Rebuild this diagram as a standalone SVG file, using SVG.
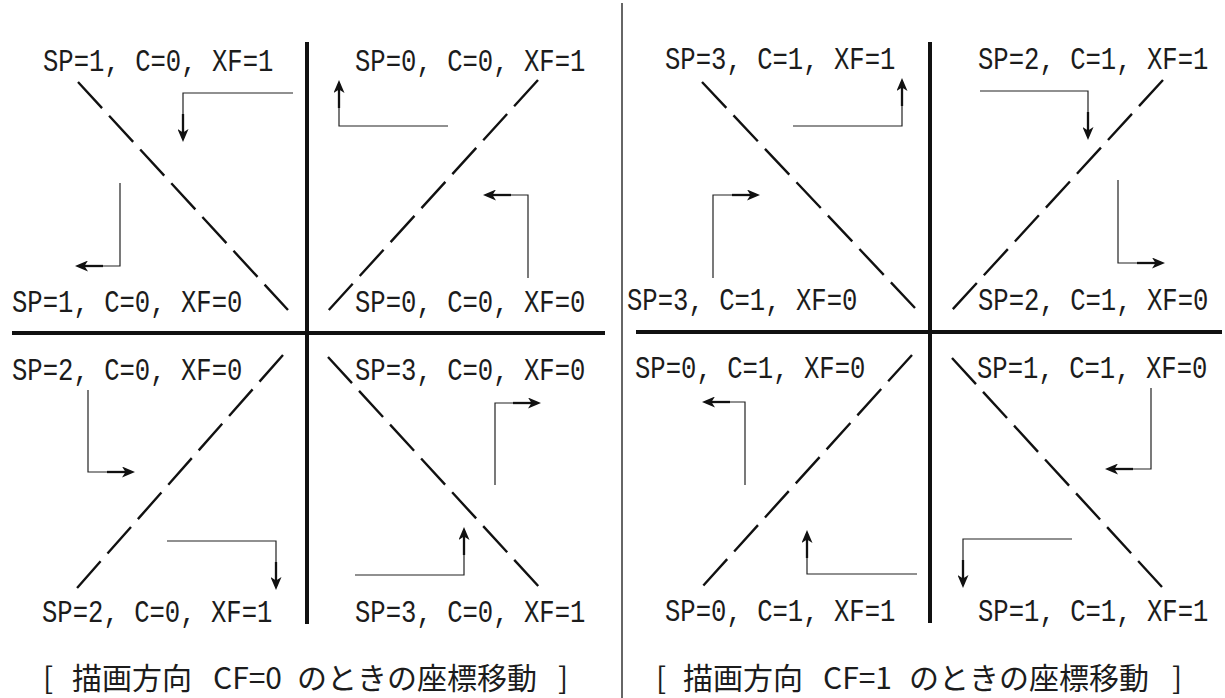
<svg xmlns="http://www.w3.org/2000/svg" width="1225" height="698" viewBox="0 0 1225 698">
<style>
.bg{fill:#ffffff}
.axis{stroke:#111;stroke-width:4;fill:none}
.sep{stroke:#333;stroke-width:1.5;fill:none}
.diag{stroke:#111;stroke-width:2.4;fill:none;stroke-dasharray:35.5 10.4}
.thin{stroke:#222;stroke-width:1.2;fill:none}
.thick{stroke:#111;stroke-width:2.3;fill:none;marker-end:url(#ah)}
.lbl{font-family:"Liberation Mono","DejaVu Sans Mono",monospace;font-size:25.6px;fill:#1c1c1c}
.cap{font-family:"Noto Sans CJK JP","Noto Sans CJK SC",sans-serif;font-size:30px;fill:#1c1c1c}
</style>
<defs>
<marker id="ah" viewBox="0 0 13 11" refX="9" refY="5.5" markerWidth="13" markerHeight="11" markerUnits="userSpaceOnUse" orient="auto">
<path d="M0,0 L13,5.5 L0,11 L3.5,5.5 Z" fill="#111"/>
</marker>
</defs>
<rect class="bg" x="0" y="0" width="1225" height="698"/>

<g id="frame">
<line class="sep" x1="622" y1="3" x2="622" y2="698"/>
<line class="axis" x1="307" y1="42" x2="307" y2="624"/>
<line class="axis" x1="12" y1="333" x2="605" y2="333"/>
<line class="axis" x1="930" y1="42" x2="930" y2="623"/>
<line class="axis" x1="636" y1="332" x2="1222" y2="332"/>
</g>

<g id="diagonals">
<line class="diag" x1="78" y1="82" x2="288" y2="310"/>
<line class="diag" x1="538" y1="80" x2="327" y2="312"/>
<line class="diag" x1="283" y1="355" x2="77" y2="588"/>
<line class="diag" x1="328" y1="357" x2="540" y2="588"/>
<line class="diag" x1="702" y1="82" x2="915" y2="308"/>
<line class="diag" x1="1163" y1="80" x2="952" y2="310"/>
<line class="diag" x1="912" y1="355" x2="702" y2="587"/>
<line class="diag" x1="952" y1="358" x2="1162" y2="587"/>
</g>

<g id="labels-cf0">
<g id="n-sp1-c0-xf1"><text class="lbl" transform="translate(43,71) scale(1,1.21)">SP=1, C=0, XF=1</text></g>
<g id="n-sp0-c0-xf1"><text class="lbl" transform="translate(355,71) scale(1,1.21)">SP=0, C=0, XF=1</text></g>
<g id="n-sp1-c0-xf0"><text class="lbl" transform="translate(12,312) scale(1,1.21)">SP=1, C=0, XF=0</text></g>
<g id="n-sp0-c0-xf0"><text class="lbl" transform="translate(355,312) scale(1,1.21)">SP=0, C=0, XF=0</text></g>
<g id="n-sp2-c0-xf0"><text class="lbl" transform="translate(12,380) scale(1,1.21)">SP=2, C=0, XF=0</text></g>
<g id="n-sp3-c0-xf0"><text class="lbl" transform="translate(355,380) scale(1,1.21)">SP=3, C=0, XF=0</text></g>
<g id="n-sp2-c0-xf1"><text class="lbl" transform="translate(42,622) scale(1,1.21)">SP=2, C=0, XF=1</text></g>
<g id="n-sp3-c0-xf1"><text class="lbl" transform="translate(355,622) scale(1,1.21)">SP=3, C=0, XF=1</text></g>
</g>

<g id="labels-cf1">
<g id="n-sp3-c1-xf1"><text class="lbl" transform="translate(665,69) scale(1,1.21)">SP=3, C=1, XF=1</text></g>
<g id="n-sp2-c1-xf1"><text class="lbl" transform="translate(978,69) scale(1,1.21)">SP=2, C=1, XF=1</text></g>
<g id="n-sp3-c1-xf0"><text class="lbl" transform="translate(627,310) scale(1,1.21)">SP=3, C=1, XF=0</text></g>
<g id="n-sp2-c1-xf0"><text class="lbl" transform="translate(978,310) scale(1,1.21)">SP=2, C=1, XF=0</text></g>
<g id="n-sp0-c1-xf0"><text class="lbl" transform="translate(635,378) scale(1,1.21)">SP=0, C=1, XF=0</text></g>
<g id="n-sp1-c1-xf0"><text class="lbl" transform="translate(977,378) scale(1,1.21)">SP=1, C=1, XF=0</text></g>
<g id="n-sp0-c1-xf1"><text class="lbl" transform="translate(665,621) scale(1,1.21)">SP=0, C=1, XF=1</text></g>
<g id="n-sp1-c1-xf1"><text class="lbl" transform="translate(978,621) scale(1,1.21)">SP=1, C=1, XF=1</text></g>
</g>

<g id="connectors">
<path class="thin" d="M293,93 H183 V114"/><path class="thick" d="M183,114 V138"/>
<path class="thin" d="M120,183 V266 H103"/><path class="thick" d="M103,266 H79"/>
<path class="thin" d="M448,126 H339 V108"/><path class="thick" d="M339,108 V84"/>
<path class="thin" d="M528,278 V195 H511"/><path class="thick" d="M511,195 H487"/>
<path class="thin" d="M88,390 V472 H107"/><path class="thick" d="M107,472 H131"/>
<path class="thin" d="M167,541 H276 V562"/><path class="thick" d="M276,562 V586"/>
<path class="thin" d="M495,485 V403 H513"/><path class="thick" d="M513,403 H537"/>
<path class="thin" d="M355,575 H464 V555"/><path class="thick" d="M464,555 V531"/>

<path class="thin" d="M793,126 H902 V106"/><path class="thick" d="M902,106 V82"/>
<path class="thin" d="M713,278 V195 H732"/><path class="thick" d="M732,195 H756"/>
<path class="thin" d="M980,91 H1088 V112"/><path class="thick" d="M1088,112 V136"/>
<path class="thin" d="M1118,180 V263 H1137"/><path class="thick" d="M1137,263 H1161"/>
<path class="thin" d="M745,485 V402 H730"/><path class="thick" d="M730,402 H706"/>
<path class="thin" d="M917,574 H807 V558"/><path class="thick" d="M807,558 V534"/>
<path class="thin" d="M1151,388 V469 H1133"/><path class="thick" d="M1133,469 H1109"/>
<path class="thin" d="M1072,539 H963 V560"/><path class="thick" d="M963,560 V584"/>
</g>

<g id="captions">
<text class="cap" y="689"><tspan x="43">[</tspan><tspan x="72">描画方向</tspan><tspan x="213">CF=0</tspan><tspan x="297">のときの座標移動</tspan><tspan x="558">]</tspan></text>
<text class="cap" y="689"><tspan x="656">[</tspan><tspan x="683">描画方向</tspan><tspan x="823">CF=1</tspan><tspan x="909">のときの座標移動</tspan><tspan x="1172">]</tspan></text>
</g>
</svg>
